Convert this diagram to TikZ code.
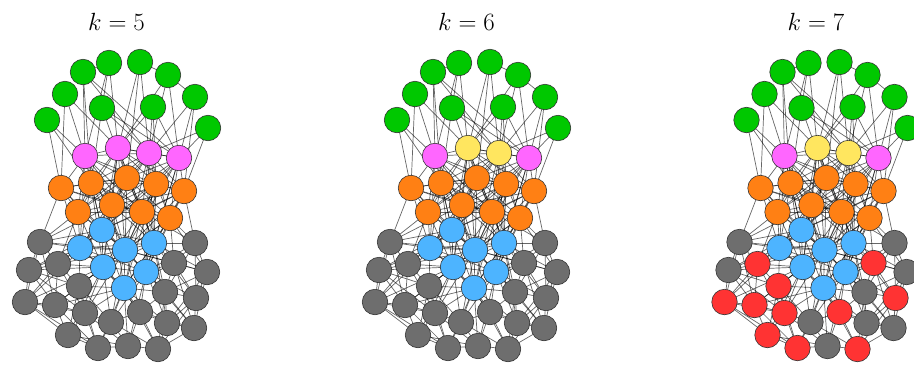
\documentclass[tikz,border=0pt]{standalone}
\usetikzlibrary{backgrounds}
\definecolor{cgreenc}{RGB}{0,200,0}
\definecolor{cpinkc}{RGB}{255,102,255}
\definecolor{cyellowc}{RGB}{255,230,95}
\definecolor{corangec}{RGB}{255,128,20}
\definecolor{cbluec}{RGB}{77,180,255}
\definecolor{cgrayc}{RGB}{110,110,110}
\definecolor{credc}{RGB}{255,51,51}
\tikzset{
  vtx/.style={circle, minimum size=25.5pt, inner sep=0pt, draw=black!80, line width=0.6pt},
  cg/.style={fill=cgreenc}, cp/.style={fill=cpinkc}, cy/.style={fill=cyellowc},
  co/.style={fill=corangec}, cb/.style={fill=cbluec}, cgr/.style={fill=cgrayc},
  cr/.style={fill=credc},
  edge/.style={draw=black, opacity=0.6, line width=0.7pt},
  titlelbl/.style={inner sep=0pt, font=\fontsize{26}{31}\selectfont}
}
\def\nodelist{1/83/72/cg, 2/109/63/cg, 3/140/62/cg, 4/168/75/cg, 5/65/94/cg, 6/102/108/cg, 7/153/107/cg, 8/195/97/cg, 9/47/120/cg, 10/208/128/cg,
11/85/156/cp, 12/118/148/cpv, 13/149/153/cpv, 14/179/158/cp,
15/61/188/co, 16/91/183/co, 17/127/178/co, 18/156/184/co, 19/184/191/co, 20/78/212/co, 21/112/205/co, 22/142/212/co, 23/170/218/co,
24/102/230/cb, 25/80/248/cb, 26/125/250/cb, 27/154/243/cb, 28/103/267/cb, 29/146/272/cb, 30/124/288/cb,
31/40/242/cgr, 32/195/243/cgr, 33/29/270/cgr, 34/58/264/crv, 35/174/263/crv, 36/207/272/cgr, 37/79/286/crv, 38/165/292/cgr, 39/25/302/crv, 40/55/305/crv,
41/85/313/crv, 42/196/298/crv, 43/111/322/cgr, 44/140/312/crv, 45/167/323/cgr, 46/194/328/cgr, 47/68/335/crv, 48/98/348/crv, 49/128/346/cgr, 50/158/349/crv}
\def\edgelist{1/11, 1/13, 1/14, 1/2, 2/11, 2/12, 3/12, 3/17, 4/12, 4/13, 4/8, 5/11, 5/12, 6/13, 6/14, 6/16, 7/12, 7/13, 7/14, 8/14, 8/13, 9/11, 9/16, 10/14, 10/13, 10/19, 2/6, 3/4,
1/16, 5/15, 6/17, 7/18, 8/19, 9/15, 4/14, 3/13,
11/12, 12/13, 13/14, 11/13, 12/14,
11/15, 11/16, 11/17, 11/18, 11/21, 12/16, 12/17, 12/18, 12/19, 12/21, 12/22, 13/16, 13/17, 13/18, 13/19, 13/22, 13/23, 14/17, 14/18, 14/19, 14/23, 14/22, 11/20, 14/21,
11/24, 12/26, 13/27, 14/27, 12/24, 13/26, 11/25, 14/29,
11/22, 11/26, 12/27, 13/24, 13/21, 14/26, 12/20, 13/20, 12/28, 13/29, 11/27, 14/24,
15/16, 16/17, 17/18, 18/19, 15/20, 16/20, 16/21, 17/21, 17/22, 18/22, 18/23, 19/23, 20/21, 21/22, 22/23, 15/21, 16/22, 17/23, 19/22, 15/17, 16/18, 17/19, 20/22, 21/23,
15/22, 16/23, 17/20, 18/21, 19/21,
20/24, 20/25, 21/24, 21/26, 22/26, 22/27, 23/27, 23/29, 15/25, 16/24, 17/26, 18/27, 19/27, 20/28, 21/28, 22/29, 23/26, 17/24, 18/26, 19/29, 21/30, 22/30, 16/26, 18/29,
15/24, 16/25, 17/25, 17/27, 18/24, 19/26, 20/26, 21/27, 21/25, 22/24, 22/28, 23/28, 23/30, 16/28, 18/30, 19/24, 15/26,
24/25, 24/26, 25/28, 26/28, 26/27, 27/29, 28/30, 29/30, 26/29, 26/30, 24/28, 25/26, 27/30, 24/27, 25/30, 28/29,
24/29, 25/27, 27/28, 24/30, 25/29,
31/33, 31/34, 31/25, 31/15, 31/20, 31/24, 31/39, 31/26, 31/21, 31/40,
32/35, 32/36, 32/27, 32/23, 32/19, 32/42, 32/29, 32/22, 32/38,
33/34, 33/39, 33/40, 33/25, 33/37, 33/28, 33/24, 33/41,
34/25, 34/37, 34/40, 34/20, 34/24, 34/28, 34/39, 34/26, 34/41,
35/27, 35/29, 35/36, 35/38, 35/42, 35/23, 35/26, 35/22, 35/30, 35/46,
36/42, 36/38, 36/27, 36/46, 36/26, 36/23, 36/45,
37/28, 37/41, 37/40, 37/25, 37/30, 37/43, 37/26, 37/47, 37/48,
38/29, 38/42, 38/45, 38/44, 38/30, 38/46, 38/26, 38/27, 38/50,
39/40, 39/47, 39/41, 39/24, 39/28, 39/48,
40/41, 40/47, 40/28, 40/30, 40/48,
41/43, 41/47, 41/48, 41/28, 41/30, 41/26, 41/49,
42/46, 42/45, 42/29, 42/27, 42/50,
43/30, 43/48, 43/49, 43/44, 43/28, 43/26, 43/29, 43/50,
44/30, 44/29, 44/49, 44/50, 44/45, 44/26, 44/28, 44/46,
45/46, 45/50, 45/29, 45/27, 45/30,
46/50, 46/29, 47/48, 47/28, 47/49, 48/49, 48/30, 49/50, 49/30, 49/29, 50/30}
\newcommand\onegraph[5]{%
\begin{scope}[xshift=#2pt, cpv/.style={#3}, crv/.style={#4}]
  \node[titlelbl] (#1title) at (116.5,22) {$k=#5$};
  \foreach \n/\x/\y/\c in \nodelist {\node[vtx,\c] (#1\n) at (\x,\y) {};}
  \begin{scope}[on background layer]
    \foreach \a/\b in \edgelist {\draw[edge] (#1\a.center) -- (#1\b.center);}
  \end{scope}
\end{scope}}
\begin{document}
\begin{tikzpicture}[x=1pt, y=-1pt]
\useasboundingbox (0,0) rectangle (914,365);
\onegraph{A}{0}{cp}{cgr}{5}
\onegraph{B}{350}{cy}{cgr}{6}
\onegraph{C}{699.5}{cy}{cr}{7}
\end{tikzpicture}
\end{document}
